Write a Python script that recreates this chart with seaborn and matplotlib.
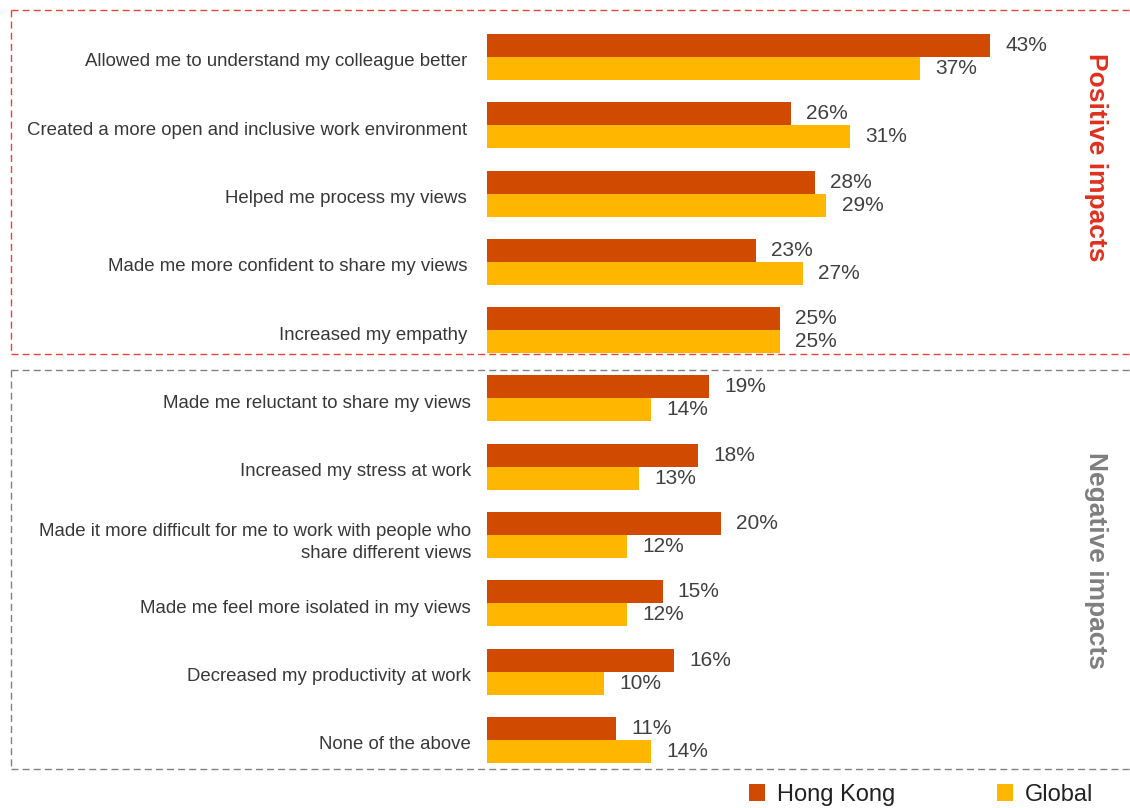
import matplotlib
matplotlib.use("Agg")
import matplotlib.pyplot as plt
import matplotlib.transforms as mtransforms
from matplotlib.patches import Patch
from matplotlib.lines import Line2D
import seaborn as sns
import pandas as pd

# Survey items, top to bottom
positive_items = [
    "Allowed me to understand my colleague better",
    "Created a more open and inclusive work environment",
    "Helped me process my views",
    "Made me more confident to share my views",
    "Increased my empathy",
]
negative_items = [
    "Made me reluctant to share my views",
    "Increased my stress at work",
    "Made it more difficult for me to work with people who\nshare different views",
    "Made me feel more isolated in my views",
    "Decreased my productivity at work",
    "None of the above",
]
items = positive_items + negative_items

hong_kong = [43, 26, 28, 23, 25, 19, 18, 20, 15, 16, 11]
global_ = [37, 31, 29, 27, 25, 14, 13, 12, 12, 10, 14]

series_names = ["Hong Kong", "Global"]
series_colors = ["#D04A02", "#FFB600"]

df = pd.DataFrame({
    "item": items * 2,
    "value": hong_kong + global_,
    "region": [series_names[0]] * len(items) + [series_names[1]] * len(items),
})

sns.set_theme(style="white")
plt.rcParams["font.family"] = ["Liberation Sans", "DejaVu Sans"]

W, H = 1130, 808
fig = plt.figure(figsize=(W / 100, H / 100), dpi=100)

# Axes placed in pixel terms
ax_left, ax_right = 487, 1067
ax_top, ax_bottom = 22.85, 774
ax = fig.add_axes([ax_left / W, 1 - ax_bottom / H,
                   (ax_right - ax_left) / W, (ax_bottom - ax_top) / H])

sns.barplot(data=df, y="item", x="value", hue="region", order=items,
            hue_order=series_names, palette=series_colors, orient="h",
            width=0.675, saturation=1, linewidth=0, ax=ax, legend=False)

ax.set_xlim(0, (ax_right - ax_left) / 11.7)
ax.set_ylim(len(items) - 0.5, -0.5)
ax.set_xlabel("")
ax.set_ylabel("")
ax.set_xticks([])
for s in ax.spines.values():
    s.set_visible(False)

ax.tick_params(axis="y", length=0, pad=11.5, labelsize=13.4, labelcolor="#383838")
ticklabels = ax.get_yticklabels()
for i, lab in enumerate(ticklabels):
    lab.set_horizontalalignment("right")
    lab.set_multialignment("right")
    lab.set_linespacing(1.4)
    dx = -0.04 if i < len(positive_items) else 0.0
    lab.set_transform(lab.get_transform() +
                      mtransforms.ScaledTranslation(dx, -0.03, fig.dpi_scale_trans))

# Value labels
for container in ax.containers:
    texts = ax.bar_label(container,
                         labels=[f"{v:.0f}%" for v in container.datavalues],
                         padding=11, fontsize=15, color="#404040")
    for t in texts:
        t.set_transform(t.get_transform() +
                        mtransforms.ScaledTranslation(0, -0.025, fig.dpi_scale_trans))

# Dashed group frames (top, left, bottom edges; the right side runs off the figure)
def frame(y0, y1, color):
    x0, x1 = 11 / W, 1.01
    kw = dict(transform=fig.transFigure, color=color, lw=1.0,
              linestyle=(0, (5, 3)), clip_on=False)
    fig.add_artist(Line2D([x0, x1], [1 - y0 / H] * 2, **kw))
    fig.add_artist(Line2D([x0, x1], [1 - y1 / H] * 2, **kw))
    fig.add_artist(Line2D([x0, x0], [1 - y0 / H, 1 - y1 / H], **kw))

frame(10, 354, "#E8413A")
frame(370, 769, "#808080")

fig.text(1096 / W, 1 - 157 / H, "Positive impacts", rotation=270, ha="center",
         va="center", fontsize=19, fontweight="bold", color="#E0301E")
fig.text(1096 / W, 1 - 561 / H, "Negative impacts", rotation=270, ha="center",
         va="center", fontsize=19, fontweight="bold", color="#7F7F7F")

handles = [Patch(facecolor=c, edgecolor="none") for c in series_colors]
fig.legend(handles, series_names, loc="center", ncol=2, frameon=False,
           bbox_to_anchor=(921 / W, 1 - 795 / H), fontsize=17,
           handlelength=0.7, handleheight=0.7, handletextpad=0.5,
           columnspacing=4.3, borderpad=0, labelcolor="#222222")

fig.savefig("out.png", dpi=100, facecolor="white")
